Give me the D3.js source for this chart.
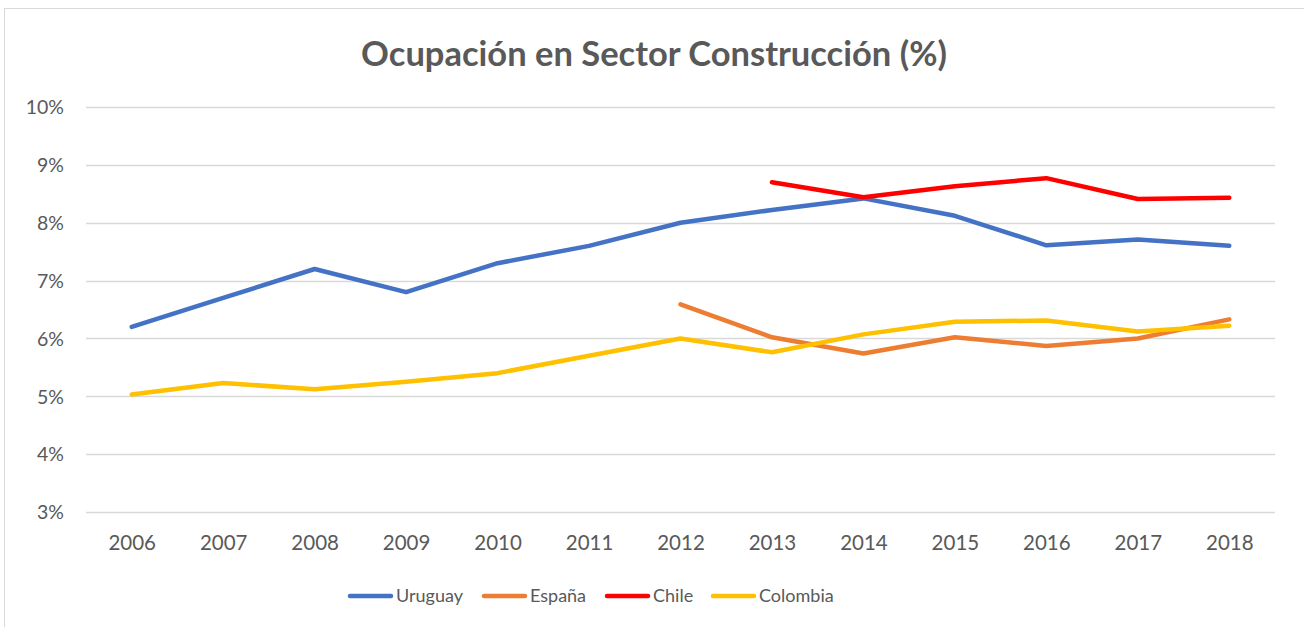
<!DOCTYPE html>
<html>
<head>
<meta charset="utf-8">
<script src="https://cdn.jsdelivr.net/npm/d3@7"></script>
<style>
  body { margin: 0; background: #fff; }
  text { font-family: Lato, "Open Sans", sans-serif; fill: #595959; }
</style>
</head>
<body>
<div id="chart"></div>
<script>
var years = ["2006","2007","2008","2009","2010","2011","2012","2013","2014","2015","2016","2017","2018"];
var uruguay  = [6.2, 6.7, 7.2, 6.8, 7.3, 7.6, 8.0, 8.22, 8.42, 8.12, 7.61, 7.71, 7.6];
var espana   = [null, null, null, null, null, null, 6.59, 6.02, 5.74, 6.02, 5.87, 6.0, 6.33];
var chile    = [null, null, null, null, null, null, null, 8.7, 8.44, 8.63, 8.77, 8.41, 8.43];
var colombia = [5.03, 5.23, 5.12, 5.25, 5.4, 5.7, 6.0, 5.76, 6.07, 6.29, 6.31, 6.12, 6.22];
var yTicks = [3, 4, 5, 6, 7, 8, 9, 10];

var series = [
  { name: "Uruguay", values: uruguay, color: "#4472C4" },
  { name: "España", values: espana, color: "#ED7D31" },
  { name: "Chile", values: chile, color: "#FF0000" },
  { name: "Colombia", values: colombia, color: "#FFC000" }
];

var W = 1304, H = 627;
var margin = { top: 107, left: 86, right: 29, bottom: 115 };
var width = W - margin.left - margin.right,
    height = H - margin.top - margin.bottom;

var svg = d3.select("#chart").append("svg")
    .attr("width", W)
    .attr("height", H);

// chart frame
svg.append("rect")
  .attr("x", 4.5).attr("y", 8.5)
  .attr("width", W + 10).attr("height", H + 10)
  .attr("fill", "none").attr("stroke", "#d9d9d9");

svg.append("text")
  .attr("x", 654).attr("y", 66)
  .attr("text-anchor", "middle")
  .style("font-size", "34.5px").style("font-weight", "bold")
  .text("Ocupación en Sector Construcción (%)");

var g = svg.append("g")
  .attr("transform", "translate(" + margin.left + "," + margin.top + ")");

var x = d3.scalePoint().domain(years).range([0, width]).padding(0.5);
var y = d3.scaleLinear().domain([3, 10]).range([height, 0]);

// gridlines
g.selectAll(".grid").data(yTicks).enter().append("line")
  .attr("class", "grid")
  .attr("x1", 0).attr("x2", width)
  .attr("y1", function(d) { return Math.round(y(d)) + 0.5; })
  .attr("y2", function(d) { return Math.round(y(d)) + 0.5; })
  .attr("stroke", "#d9d9d9").attr("stroke-width", 1.5);

var yAxis = d3.axisLeft(y).tickValues(yTicks)
  .tickFormat(function(d) { return d + "%"; })
  .tickSize(0).tickPadding(22);
g.append("g").attr("class", "axis y-axis").call(yAxis)
  .call(function(a) { a.select(".domain").remove(); })
  .selectAll("text").style("font-size", "19.5px").attr("dy", "0.35em");

var xAxis = d3.axisBottom(x).tickSize(0).tickPadding(23);
g.append("g").attr("class", "axis x-axis")
  .attr("transform", "translate(0," + height + ")")
  .call(xAxis)
  .call(function(a) { a.select(".domain").remove(); })
  .selectAll("text").style("font-size", "20.5px");

var line = d3.line()
  .defined(function(d) { return d != null; })
  .x(function(d, i) { return x(years[i]); })
  .y(function(d) { return y(d); });

g.selectAll(".series").data(series).enter().append("path")
  .attr("class", "series")
  .attr("d", function(s) { return line(s.values); })
  .attr("fill", "none")
  .attr("stroke", function(s) { return s.color; })
  .attr("stroke-width", 4.5)
  .attr("stroke-linecap", "round")
  .attr("stroke-linejoin", "round");

// legend
var legendX = [350, 484, 607, 713];
var legend = svg.selectAll(".legend").data(series).enter().append("g")
  .attr("class", "legend")
  .attr("transform", function(d, i) { return "translate(" + legendX[i] + ",596)"; });
legend.append("line")
  .attr("x1", 0).attr("x2", 41)
  .attr("stroke", function(d) { return d.color; })
  .attr("stroke-width", 4.5).attr("stroke-linecap", "round");
legend.append("text")
  .attr("x", 46).attr("dy", "0.35em")
  .style("font-size", "18px")
  .text(function(d) { return d.name; });
</script>
</body>
</html>
